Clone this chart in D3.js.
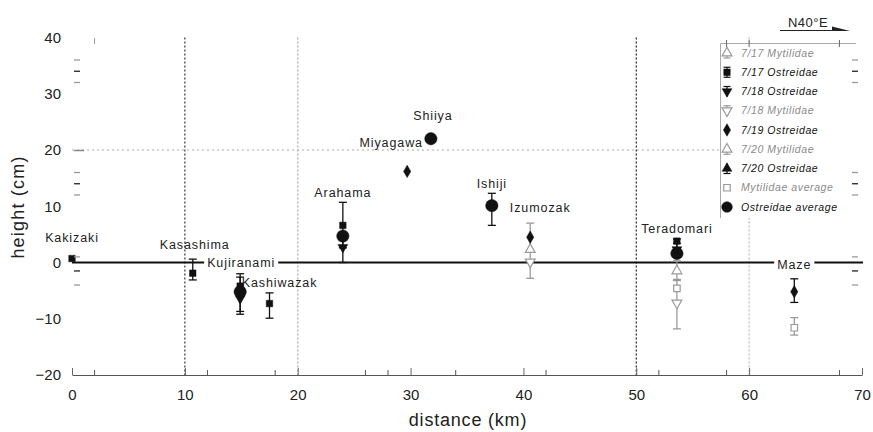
<!DOCTYPE html>
<html>
<head>
<meta charset="utf-8">
<script src="https://cdn.jsdelivr.net/npm/d3@7"></script>
<style>
  body { margin: 0; background: #fff; }
  text { font-family: "Liberation Sans", Arial, sans-serif; }
</style>
</head>
<body>
<div id="chart"></div>
<script>
// stations along the coast, distance from Kakizaki (km)
const stations = ["Kakizaki", "Kasashima", "Kujiranami", "Kashiwazak", "Arahama", "Miyagawa",
                  "Shiiya", "Ishiji", "Izumozak", "Teradomari", "Maze"];
const distanceKm = [0, 10.7, 14.9, 17.5, 24.0, 29.7, 31.8, 37.2, 40.6, 53.6, 64.0];

// heights (cm), one slot per station, null = no sample
const m717 = [null, null, null, null, null, null, null, null, null, -1.5, null];
const m717Lo = [null, null, null, null, null, null, null, null, null, -3.2, null];
const m717Hi = [null, null, null, null, null, null, null, null, null, 0.3, null];

const o717 = [0.7, -1.9, -4.2, -7.3, 6.6, null, null, null, null, 3.8, null];
const o717Lo = [null, -3.1, -8.7, -9.9, 2.6, null, null, null, null, 1.5, null];
const o717Hi = [null, 0.6, -2.0, -5.4, 10.7, null, null, null, null, 4.2, null];

const o718 = [null, null, -6.4, null, 2.7, null, null, null, null, 2.3, null];
const o718Lo = [null, null, -9.2, null, 0, null, null, null, null, null, null];
const o718Hi = [null, null, -2.6, null, 4.6, null, null, null, null, 3.4, null];

const m718 = [null, null, null, null, null, null, null, null, 0.1, -7.2, null];
const m718Lo = [null, null, null, null, null, null, null, null, -2.8, -11.8, null];
const m718Hi = [null, null, null, null, null, null, null, null, 7.0, -3.0, null];

const o719 = [null, null, null, null, null, 16.2, null, null, 4.5, null, -5.2];
const o719Lo = [null, null, null, null, null, null, null, null, null, null, -7.1];
const o719Hi = [null, null, null, null, null, null, null, null, null, null, -2.9];

const m720 = [null, null, null, null, null, null, null, null, 2.3, null, null];
const o720 = [null, null, null, null, null, null, null, null, null, null, null];

const mAvg = [null, null, null, null, null, null, null, null, null, -4.6, -11.6];
const mAvgLo = [null, null, null, null, null, null, null, null, null, null, -12.9];
const mAvgHi = [null, null, null, null, null, null, null, null, null, null, -9.8];

const oAvg = [null, null, -5.2, null, 4.7, null, 22.0, 10.1, null, 1.6, null];
const oAvgLo = [null, null, null, null, null, null, null, 6.6, null, null, null];
const oAvgHi = [null, null, null, null, null, null, null, 12.3, null, null, null];

const xTicks = [0, 10, 20, 30, 40, 50, 60, 70];
const yTicks = [-20, -10, 0, 10, 20, 30, 40];

// ---------- layout ----------
const W = 873, H = 432;
const GRAY = "#9a9a9a", BLACK = "#111";

const x = d3.scaleLinear().domain([0, 70]).range([72, 862]);
const y = d3.scaleLinear().domain([-20, 40]).range([375, 37.5]);

const series = [
  {label: "7/17 Mytilidae", color: GRAY, sym: "triUpOpen", v: m717, lo: m717Lo, hi: m717Hi},
  {label: "7/18 Mytilidae", color: GRAY, sym: "triDownOpen", v: m718, lo: m718Lo, hi: m718Hi},
  {label: "7/20 Mytilidae", color: GRAY, sym: "triUpOpen", v: m720},
  {label: "Mytilidae average", color: GRAY, sym: "squareOpen", v: mAvg, lo: mAvgLo, hi: mAvgHi},
  {label: "7/17 Ostreidae", color: BLACK, sym: "square", v: o717, lo: o717Lo, hi: o717Hi},
  {label: "7/18 Ostreidae", color: BLACK, sym: "triDown", v: o718, lo: o718Lo, hi: o718Hi},
  {label: "7/19 Ostreidae", color: BLACK, sym: "diamond", v: o719, lo: o719Lo, hi: o719Hi},
  {label: "7/20 Ostreidae", color: BLACK, sym: "triUp", v: o720},
  {label: "Ostreidae average", color: BLACK, sym: "circle", v: oAvg, lo: oAvgLo, hi: oAvgHi}
];
const legendOrder = ["7/17 Mytilidae", "7/17 Ostreidae", "7/18 Ostreidae", "7/18 Mytilidae",
  "7/19 Ostreidae", "7/20 Mytilidae", "7/20 Ostreidae", "Mytilidae average", "Ostreidae average"];

// label placement: pixel shift in x, label centre height (cm)
const labelPos = {
  Kakizaki: [0, 4.5], Kasashima: [2, 3.1], Kujiranami: [1, -0.1], Kashiwazak: [10, -3.6],
  Arahama: [0, 12.5], Miyagawa: [-16, 21.4], Shiiya: [2, 26.2], Ishiji: [0, 14.1],
  Izumozak: [10, 9.7], Teradomari: [0, 6.1], Maze: [0, -0.4]
};

const svg = d3.select("#chart").append("svg")
  .attr("width", W).attr("height", H);

// dotted grid
const vGrid = [[10, "#333"], [20, "#aaa"], [50, "#222"], [60, "#b5b5b5"]];
svg.selectAll(".vgrid").data(vGrid).enter().append("line")
  .attr("x1", d => x(d[0])).attr("x2", d => x(d[0]))
  .attr("y1", y(40)).attr("y2", y(-20))
  .attr("stroke", d => d[1]).attr("stroke-width", 1.2)
  .attr("stroke-dasharray", "2,2");
svg.append("line")
  .attr("x1", x(0)).attr("x2", 720).attr("y1", y(20)).attr("y2", y(20))
  .attr("stroke", "#aaa").attr("stroke-width", 1.2).attr("stroke-dasharray", "2,3");

// zero line
svg.append("line")
  .attr("x1", x(0)).attr("x2", x(70) + 1).attr("y1", y(0)).attr("y2", y(0))
  .attr("stroke", BLACK).attr("stroke-width", 2);

// bottom axis
const xAxis = svg.append("g").attr("transform", "translate(0," + y(-20) + ")")
  .call(d3.axisBottom(x).tickValues(xTicks).tickSizeInner(-7).tickSizeOuter(0).tickPadding(14));
xAxis.select(".domain").attr("stroke", "#555");
xAxis.selectAll(".tick line").attr("stroke", "#666");
xAxis.selectAll("text").attr("font-size", 15).attr("fill", "#222")
  .attr("font-family", "Liberation Sans, Arial, sans-serif");

const xMinor = [2, 12, 18, 26, 28, 34, 42, 52, 58, 68];
svg.selectAll(".xminor").data(xMinor).enter().append("line")
  .attr("x1", d => x(d)).attr("x2", d => x(d))
  .attr("y1", y(-20)).attr("y2", y(-20) - 5)
  .attr("stroke", "#555");

// left axis labels only
const yAxis = svg.append("g").attr("transform", "translate(" + x(0) + ",0)")
  .call(d3.axisLeft(y).tickValues(yTicks).tickSize(0).tickPadding(11));
yAxis.select(".domain").remove();
yAxis.selectAll("text").attr("font-size", 15).attr("fill", "#222")
  .attr("font-family", "Liberation Sans, Arial, sans-serif");
yAxis.selectAll(".tick").filter(d => d === 20).append("line")
  .attr("x1", 2).attr("x2", 12).attr("stroke", "#888").attr("stroke-width", 1.5);

// axis titles
svg.append("text").attr("x", 468).attr("y", 426).attr("text-anchor", "middle")
  .attr("font-size", 18).attr("letter-spacing", 0.8).attr("fill", "#222").text("distance (km)");
svg.append("text").attr("transform", "translate(24,207) rotate(-90)").attr("text-anchor", "middle")
  .attr("font-size", 18).attr("letter-spacing", 1.2).attr("fill", "#222").text("height (cm)");

// marker drawing
function symbolPath(sym, size) {
  const t = {circle: d3.symbolCircle, square: d3.symbolSquare, squareOpen: d3.symbolSquare,
    diamond: d3.symbolDiamond, triUp: d3.symbolTriangle, triUpOpen: d3.symbolTriangle,
    triDown: d3.symbolTriangle, triDownOpen: d3.symbolTriangle}[sym];
  return d3.symbol().type(t).size(size)();
}
function drawMarker(g, sym, color, cx, cy, big) {
  const size = sym === "circle" ? (big ? 120 : 90) : (sym === "diamond" ? 45 : 42);
  const open = sym.endsWith("Open");
  const rot = sym.startsWith("triDown") ? " rotate(180)" : "";
  g.append("path").attr("d", symbolPath(sym, size))
    .attr("transform", "translate(" + cx + "," + cy + ")" + rot)
    .attr("fill", open ? "#fff" : color)
    .attr("stroke", color).attr("stroke-width", open ? 1.2 : 0.5);
}

const marks = svg.append("g");
series.forEach(s => {
  const g = marks.append("g");
  s.v.forEach((val, i) => {
    if (val == null) return;
    const cx = x(distanceKm[i]);
    const lo = s.lo ? s.lo[i] : null, hi = s.hi ? s.hi[i] : null;
    if (lo != null || hi != null) {
      const a = y(hi != null ? hi : val), b = y(lo != null ? lo : val);
      g.append("line").attr("x1", cx).attr("x2", cx).attr("y1", a).attr("y2", b)
        .attr("stroke", s.color).attr("stroke-width", 1.3);
      [hi, lo].forEach(e => {
        if (e == null) return;
        g.append("line").attr("x1", cx - 4).attr("x2", cx + 4).attr("y1", y(e)).attr("y2", y(e))
          .attr("stroke", s.color).attr("stroke-width", 1.3);
      });
    }
    drawMarker(g, s.sym, s.color, cx, y(val), true);
  });
});

// station labels
const labels = svg.append("g");
stations.forEach((name, i) => {
  const p = labelPos[name];
  const t = labels.append("text")
    .attr("x", x(distanceKm[i]) + p[0]).attr("y", y(p[1])).attr("dy", "0.35em")
    .attr("text-anchor", "middle").attr("font-size", 12.5).attr("letter-spacing", 0.9)
    .attr("fill", "#222").text(name);
  if (name === "Kujiranami" || name === "Maze") {
    const bb = t.node().getBBox();
    labels.insert("rect", "text").attr("x", bb.x - 3).attr("y", bb.y)
      .attr("width", bb.width + 6).attr("height", bb.height).attr("fill", "#fff");
  }
});

// legend
const lg = svg.append("g");
lg.append("rect").attr("x", 720).attr("y", 43).attr("width", 138).attr("height", 175).attr("fill", "#fff");
lg.append("path").attr("d", "M720.5,218V43.5H856").attr("fill", "none").attr("stroke", "#aaa");
[x(58), x(60), x(68)].forEach(px => lg.append("line").attr("x1", px).attr("x2", px)
  .attr("y1", 40).attr("y2", 47).attr("stroke", "#666"));
legendOrder.forEach((lab, k) => {
  const s = series.find(d => d.label === lab);
  const ly = 53 + k * 19.25;
  const g = lg.append("g");
  if (s.sym !== "circle" && s.sym !== "squareOpen") {
    g.append("line").attr("x1", 727).attr("x2", 727).attr("y1", ly - 5).attr("y2", ly + 5)
      .attr("stroke", s.color).attr("stroke-width", 1.2);
    const caps = s.sym === "square" ? [-5, 5] : (s.sym.startsWith("triDown") ? [-5] : (s.sym === "diamond" ? [] : [5]));
    caps.forEach(c => g.append("line").attr("x1", 723.5).attr("x2", 730.5)
      .attr("y1", ly + c).attr("y2", ly + c).attr("stroke", s.color).attr("stroke-width", 1.2));
  }
  drawMarker(g, s.sym, s.color, 727, ly, false);
  g.append("text").attr("x", 741).attr("y", ly).attr("dy", "0.35em")
    .attr("font-size", 10.5).attr("font-style", "italic").attr("letter-spacing", 0.6)
    .attr("fill", s.color === GRAY ? "#8a8a8a" : "#111").text(lab);
});

// side ticks (left and right), small clusters
const yMinor = [36, 34, 32, 16, 14, 12, 1, -1.5, -4];
[[74, 80], [852, 858]].forEach(([a, b]) => {
  svg.selectAll(null).data(yMinor).enter().append("line")
    .attr("x1", a).attr("x2", b).attr("y1", d => y(d)).attr("y2", d => y(d))
    .attr("stroke", (d, i) => i % 3 === 1 ? "#222" : "#999").attr("stroke-width", 1.3);
});
svg.append("line").attr("x1", x(2)).attr("x2", x(2)).attr("y1", 38).attr("y2", 44).attr("stroke", "#999");

// orientation note
svg.append("text").attr("x", 808).attr("y", 27).attr("text-anchor", "middle")
  .attr("font-size", 13).attr("letter-spacing", 0.5).attr("fill", "#222").text("N40°E");
svg.append("line").attr("x1", 780).attr("x2", 846).attr("y1", 30.5).attr("y2", 30.5)
  .attr("stroke", "#222").attr("stroke-width", 1.2);
svg.append("path").attr("d", "M832,26.5L850,31L832,31Z").attr("fill", "#222");
</script>
</body>
</html>
